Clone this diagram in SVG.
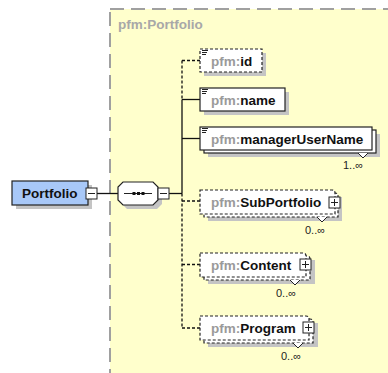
<svg xmlns="http://www.w3.org/2000/svg" width="388" height="373" viewBox="0 0 388 373">
<style>
text{font-family:"Liberation Sans",Arial,sans-serif;font-weight:bold;font-size:13.5px;fill:#111}
.pfx{fill:#9a9a9a}
.occ{font-weight:normal;font-size:11px;fill:#222}
.sh{fill:#c4c4c4}
.box{fill:#fff;stroke:#222;stroke-width:1.2}
.dbox{fill:#fff;stroke:#222;stroke-width:1.2;stroke-dasharray:3 2}
.ln{stroke:#111;stroke-width:1.3;fill:none}
.dln{stroke:#111;stroke-width:1.3;fill:none;stroke-dasharray:3 2}
.pm{fill:#fff;stroke:#222;stroke-width:1}
.ic{stroke:#222;stroke-width:1}
</style>
<rect x="110" y="9" width="290" height="380" fill="#ffffcc" stroke="#a0a0a0" stroke-width="2" stroke-dasharray="14 7"/>
<text x="118" y="29" class="pfx" style="fill:#a8a8a8">pfm:Portfolio</text>

<g id="connectors">
<line class="ln" x1="97" y1="193.5" x2="118" y2="193.5"/>
<line class="ln" x1="169" y1="193.5" x2="182" y2="193.5"/>
<line class="dln" x1="182" y1="60.5" x2="182" y2="99.5"/>
<line class="ln" x1="182" y1="99.5" x2="182" y2="193.5"/>
<line class="dln" x1="182" y1="193.5" x2="182" y2="328"/>
<line class="dln" x1="182" y1="60.5" x2="200" y2="60.5"/>
<line class="ln" x1="182" y1="99.5" x2="200" y2="99.5"/>
<line class="ln" x1="182" y1="138.5" x2="200" y2="138.5"/>
<line class="dln" x1="182" y1="201" x2="200" y2="201"/>
<line class="dln" x1="182" y1="264.5" x2="200" y2="264.5"/>
<line class="dln" x1="182" y1="328" x2="200" y2="328"/>
</g>

<g id="Portfolio">
<rect class="sh" x="16" y="185" width="76" height="24"/>
<rect x="12" y="181" width="76" height="24" fill="#a8c8f8" stroke="#222" stroke-width="1.2"/>
<text x="22" y="198">Portfolio</text>
<rect class="pm" x="86" y="188" width="11" height="11"/>
<line class="ic" x1="88" y1="193.5" x2="95" y2="193.5"/>
</g>

<g id="sequence">
<polygon class="sh" points="127,186 157,186 162,191 162,204 157,209 127,209 122,204 122,191"/>
<polygon class="box" points="123,182 153,182 158,187 158,200 153,205 123,205 118,200 118,187"/>
<line class="ic" x1="124" y1="193.5" x2="152" y2="193.5"/>
<rect x="132.5" y="192" width="3" height="3" fill="#111"/>
<rect x="137" y="192" width="3" height="3" fill="#111"/>
<rect x="141.5" y="192" width="3" height="3" fill="#111"/>
<rect class="pm" x="158" y="188" width="11" height="11"/>
<line class="ic" x1="160" y1="193.5" x2="167" y2="193.5"/>
</g>

<g id="id">
<rect class="sh" x="204" y="53" width="62" height="23"/>
<rect class="dbox" x="200" y="49" width="62" height="23"/>
<line class="ic" x1="202" y1="50.5" x2="208" y2="50.5"/>
<line class="ic" x1="202" y1="52.5" x2="207" y2="52.5"/>
<line class="ic" x1="202" y1="54.5" x2="206" y2="54.5"/>
<text x="211" y="65.5"><tspan class="pfx">pfm:</tspan>id</text>
</g>

<g id="name">
<rect class="sh" x="204" y="92" width="85" height="23"/>
<rect class="box" x="200" y="88" width="85" height="23"/>
<line class="ic" x1="202" y1="89.5" x2="208" y2="89.5"/>
<line class="ic" x1="202" y1="91.5" x2="207" y2="91.5"/>
<line class="ic" x1="202" y1="93.5" x2="206" y2="93.5"/>
<text x="211" y="104.5"><tspan class="pfx">pfm:</tspan>name</text>
</g>

<g id="managerUserName">
<rect class="sh" x="208" y="134" width="172" height="23"/>
<rect class="box" x="204" y="130" width="172" height="23"/>
<rect class="box" x="200" y="127" width="172" height="23"/>
<line class="ic" x1="202" y1="128.5" x2="208" y2="128.5"/>
<line class="ic" x1="202" y1="130.5" x2="207" y2="130.5"/>
<line class="ic" x1="202" y1="132.5" x2="206" y2="132.5"/>
<text x="211" y="143.5"><tspan class="pfx">pfm:</tspan>managerUserName</text>
<polyline points="358,153 363,158 368,153" fill="#fff" stroke="#222" stroke-width="1"/>
<text x="343" y="168.5" class="occ">1..∞</text>
</g>

<g id="SubPortfolio">
<rect class="sh" x="208" y="197" width="134" height="24"/>
<path class="dbox" d="M204,193 H335 Q338,193 338,196 V217 H204 Z"/>
<path class="dbox" d="M200,190 H332 Q335,190 335,193 V214 H200 Z"/>
<text x="211" y="207"><tspan class="pfx">pfm:</tspan>SubPortfolio</text>
<rect class="pm" x="329" y="197" width="11" height="11"/>
<line class="ic" x1="331" y1="202.5" x2="338" y2="202.5"/>
<line class="ic" x1="334.5" y1="199" x2="334.5" y2="206"/>
<polyline points="317,217 322,222 327,217" fill="#fff" stroke="#222" stroke-width="1"/>
<text x="305" y="234" class="occ">0..∞</text>
</g>

<g id="Content">
<rect class="sh" x="208" y="260" width="107" height="24"/>
<path class="dbox" d="M204,256 H307 Q310,256 310,259 V280 H204 Z"/>
<path class="dbox" d="M200,253 H303 Q306,253 306,256 V277 H200 Z"/>
<text x="211" y="270"><tspan class="pfx">pfm:</tspan>Content</text>
<rect class="pm" x="300" y="259" width="11" height="11"/>
<line class="ic" x1="302" y1="264.5" x2="309" y2="264.5"/>
<line class="ic" x1="305.5" y1="261" x2="305.5" y2="268"/>
<polyline points="290,280 295,285 300,280" fill="#fff" stroke="#222" stroke-width="1"/>
<text x="276" y="297" class="occ">0..∞</text>
</g>

<g id="Program">
<rect class="sh" x="208" y="323" width="110" height="24"/>
<path class="dbox" d="M204,319 H310 Q313,319 313,322 V343 H204 Z"/>
<path class="dbox" d="M200,316 H306 Q309,316 309,319 V340 H200 Z"/>
<text x="211" y="333"><tspan class="pfx">pfm:</tspan>Program</text>
<rect class="pm" x="303" y="322" width="11" height="11"/>
<line class="ic" x1="305" y1="327.5" x2="312" y2="327.5"/>
<line class="ic" x1="308.5" y1="324" x2="308.5" y2="331"/>
<polyline points="293,343 298,348 303,343" fill="#fff" stroke="#222" stroke-width="1"/>
<text x="281" y="360" class="occ">0..∞</text>
</g>
</svg>
